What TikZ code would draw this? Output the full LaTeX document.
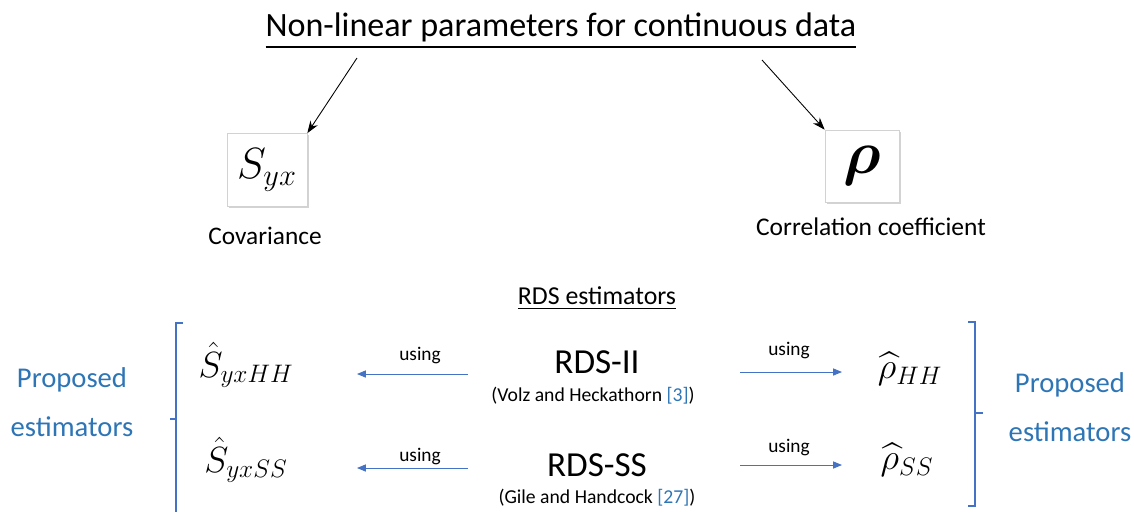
\documentclass[tikz,border=0pt]{standalone}
\usepackage{amsmath}
\usepackage{fontspec}
\setmainfont{Carlito}
\usetikzlibrary{arrows.meta,shadows,positioning}
\definecolor{txtblue}{HTML}{2E75B6}
\definecolor{lineblue}{HTML}{4472C4}
\newcommand{\fs}[1]{\fontsize{#1}{1.2\dimexpr#1pt\relax}\selectfont}
\tikzset{
    parbox/.style={draw=gray!35, fill=white, drop shadow={opacity=0.35, shadow xshift=1pt, shadow yshift=-1pt},
        minimum width=1.6cm, minimum height=1.46cm, inner sep=0pt},
    uarrow/.style={lineblue, line width=0.5pt, -{Triangle[length=5pt,width=4pt]}},
    karrow/.style={black, line width=0.5pt, -{Stealth[length=7pt,width=5pt]}},
    brack/.style={lineblue, line width=0.6pt},
    prop/.style={txtblue, align=center, font=\fontsize{16.3}{28}\selectfont},
}
\begin{document}
\begin{tikzpicture}[x=0.02cm, y=-0.02cm]
\useasboundingbox (0,0) rectangle (1134,512);
% title
\node (title) at (561,31) {\fs{19.4}\underline{Non-linear parameters for continuous data}};
\coordinate (tl) at (357,58);
\coordinate (tr) at (762,60);
% parameters
\node[parbox] (cov) at (267,170) {\fs{23}$S_{yx}$};
\node[parbox, minimum width=1.48cm, minimum height=1.44cm] (cor) at (862,166) {\fs{24}\scalebox{1.4}{$\boldsymbol{\rho}$}};
\node (covlab) at (265,236) {\fs{14.4}Covariance};
\node (corlab) at (871,227) {\fs{14.5}Correlation coefficient};
\draw[karrow] (tl) -- (cov.north east);
\draw[karrow] (tr) -- (cor.north west);
% estimators
\node (rdsest) at (597,298) {\fs{14.7}\underline{RDS estimators}};
\node (rds2) at (597,362) {\fs{20}RDS-II};
\node (ref2) at (593,396) {\fs{11.2}(Volz and Heckathorn {\color{txtblue}[3]})};
\node (rdsss) at (597,465) {\fs{20}RDS-SS};
\node (refss) at (597,498) {\fs{11.2}(Gile and Handcock {\color{txtblue}[27]})};
\node (shh) at (246,365) {\fs{20.5}$\hat{S}_{yxHH}$};
\node (sss) at (246,460) {\fs{20.5}$\hat{S}_{yxSS}$};
\node (rhh) at (910,369) {\fs{19.5}$\widehat{\rho}_{HH}$};
\node (rss) at (907,460) {\fs{19.5}$\widehat{\rho}_{SS}$};
% arrows
\foreach \a/\b/\y/\ly in {rds2/shh/374/356, rdsss/sss/468/457} {
    \coordinate (s\a) at (468,\y);
    \coordinate (e\a) at (357,\y);
    \draw[uarrow] (s\a) -- (e\a);
    \node (u\a) at (420,\ly) {\fs{11}using};
}
\foreach \a/\b/\y/\ly in {rds2/rhh/372/351, rdsss/rss/465/448} {
    \coordinate (r\a) at (740,\y);
    \coordinate (f\a) at (842,\y);
    \draw[uarrow] (r\a) -- (f\a);
    \node (v\a) at (789,\ly) {\fs{11}using};
}
% brackets
\draw[brack] (183,323) -- (176,323) -- (176,512);
\draw[brack] (176,419) -- (170,419);
\draw[brack] (968,322) -- (975,322) -- (975,506) -- (968,506);
\draw[brack] (975,413) -- (983,413);
\node[prop] (propl) at (72,402) {Proposed\\estimators};
\node[prop] (propr) at (1070,407) {Proposed\\estimators};
\end{tikzpicture}
\end{document}
